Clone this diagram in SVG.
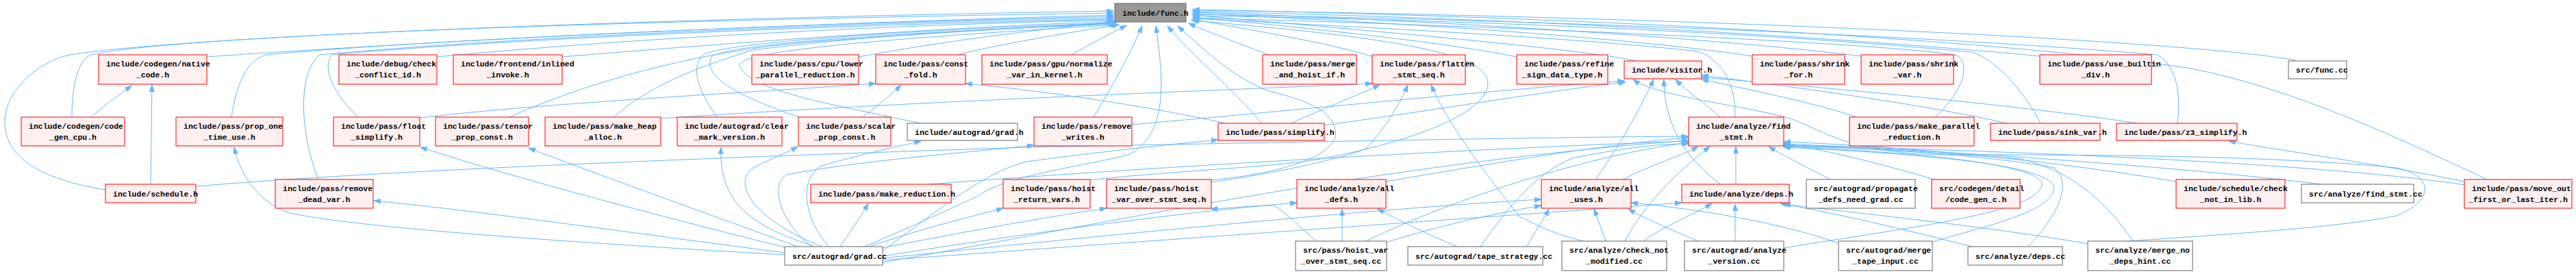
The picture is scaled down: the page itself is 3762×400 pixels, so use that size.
<svg xmlns="http://www.w3.org/2000/svg" width="3762" height="400" viewBox="0 0 3762 400">
<style>
.e path{fill:none;stroke:#63b8ff;stroke-width:1;marker-end:url(#a)}
.n rect{stroke-width:1}
.r rect{fill:#fff0f0;stroke:#ff0000}
.g rect{fill:#ffffff;stroke:#666666}
.f rect{fill:#999999;stroke:#666666}
text{font-family:"Liberation Mono","DejaVu Sans Mono",monospace;font-size:11.5px;font-weight:bold;fill:#000}
.c{text-anchor:middle}
</style>
<defs>
<marker id="a" markerWidth="11" markerHeight="8" refX="10" refY="3.5" orient="auto" markerUnits="userSpaceOnUse"><path d="M0,0L10,3.5L0,7z" fill="#63b8ff" stroke="#63b8ff" stroke-width="1"/></marker>
</defs>
<rect width="3762" height="400" fill="#ffffff"/>
<g id="connectors" class="e">
<path d="M154,277C60,262 8,230 7,180C6,130 60,88 103,80C250,55 900,28 1626,16"/>
<path d="M105,171C105,130 112,88 133,80C260,52 900,30 1626,19"/>
<path d="M302,83C600,62 1100,36 1626,22"/>
<path d="M338,171C345,125 360,86 390,80C600,60 1100,36 1626,24"/>
<path d="M465,262C440,200 432,110 467,80C700,58 1150,36 1626,26"/>
<path d="M523,171C490,140 468,100 485,80C700,60 1150,38 1626,28"/>
<path d="M638,83C900,58 1250,38 1626,29"/>
<path d="M821,83C1100,60 1350,42 1626,31"/>
<path d="M744,171C880,110 1050,70 1200,60C1400,45 1550,38 1628,33"/>
<path d="M897,171C950,120 1050,88 1100,73C1300,48 1500,40 1630,34"/>
<path d="M1047,171C1025,140 1005,100 1027,80C1060,62 1300,46 1628,33"/>
<path d="M1167,171C1060,135 1025,105 1040,82C1070,64 1300,48 1630,35"/>
<path d="M1345,180C1200,150 1090,130 1080,95C1080,70 1400,50 1632,36"/>
<path d="M1254,83C1400,56 1550,40 1628,31"/>
<path d="M1398,80C1480,60 1580,45 1634,36"/>
<path d="M1565,80C1590,65 1620,50 1645,37"/>
<path d="M1597,171C1625,125 1650,80 1668,38"/>
<path d="M1263,360C1350,322 1400,300 1430,285C1470,255 1600,240 1650,225C1705,195 1700,120 1688,38"/>
<path d="M1843,180C1800,130 1740,80 1705,38"/>
<path d="M1769,263C1850,255 1940,235 1950,200C1955,160 1900,145 1850,132C1800,112 1755,70 1720,38"/>
<path d="M1853,80C1800,60 1760,45 1736,34"/>
<path d="M1592,263C1700,250 1850,245 1923,233C2050,210 2185,165 2172,115C2160,80 2050,55 1740,30"/>
<path d="M2005,83C1950,65 1850,48 1742,28"/>
<path d="M2215,83C2100,60 1900,40 1742,25"/>
<path d="M2390,89C2300,70 2000,45 1742,22"/>
<path d="M2534,171C2535,130 2520,90 2480,75C2300,55 2000,40 1742,27"/>
<path d="M2559,82C2400,58 2100,35 1742,20"/>
<path d="M2718,82C2500,55 2100,30 1742,18"/>
<path d="M2826,171C2860,140 2880,100 2860,82C2800,65 2200,38 1742,26"/>
<path d="M2980,180C2960,140 2920,90 2880,76C2600,50 2200,30 1742,23"/>
<path d="M2979,82C2700,55 2200,25 1742,17"/>
<path d="M3180,180C3185,140 3180,95 3150,80C2800,50 2200,28 1742,21"/>
<path d="M3353,88C3200,60 2500,25 1742,15"/>
<path d="M3632,262C3500,200 3350,130 3200,100C2900,55 2300,25 1742,14"/>
<path d="M134,171C150,155 172,140 192,125"/>
<path d="M220,269L222,124"/>
<path d="M286,272C600,245 1200,225 1500,215C2000,205 2300,200 2465,199"/>
<path d="M1146,372C800,352 500,330 420,310C380,295 352,260 342,215"/>
<path d="M1146,369C900,337 700,308 546,293"/>
<path d="M1150,362C950,312 760,262 614,215"/>
<path d="M1165,360C1000,300 860,250 772,216"/>
<path d="M1190,360C1100,330 1050,300 1053,215"/>
<path d="M1200,360C1100,320 1068,268 1100,245C1125,232 1145,225 1165,214"/>
<path d="M1210,360C1175,320 1165,262 1200,242C1255,226 1305,215 1345,206"/>
<path d="M1185,360C1135,320 1125,265 1150,255C1250,235 1400,224 1510,212"/>
<path d="M1227,360C1240,340 1255,320 1268,297"/>
<path d="M1270,360C1350,332 1420,316 1465,304"/>
<path d="M1283,363C1400,340 1520,318 1616,304"/>
<path d="M1289,366C1380,300 1440,250 1500,236C1600,222 1700,212 1779,204"/>
<path d="M1289,374C1500,340 1750,307 1894,296"/>
<path d="M1289,377C1600,345 2000,305 2251,291"/>
<path d="M1289,380C1700,350 2200,315 2456,296"/>
<path d="M1289,383C1600,330 2000,240 2466,205"/>
<path d="M613,172C800,150 1100,135 1279,122"/>
<path d="M1260,171C1280,155 1300,140 1316,124"/>
<path d="M1790,180C1700,160 1550,135 1410,122"/>
<path d="M1885,180C1930,160 1980,140 2015,124"/>
<path d="M965,173C1300,150 1700,135 2004,122"/>
<path d="M1653,182C1900,160 2200,130 2372,118"/>
<path d="M1934,183C2100,160 2280,130 2374,120"/>
<path d="M1769,266C1850,255 1960,232 1995,217C2025,185 2045,150 2056,124"/>
<path d="M1357,269C1700,242 2200,215 2466,206"/>
<path d="M2024,265C2200,235 2350,210 2466,201"/>
<path d="M1995,352C2100,300 2300,230 2466,208"/>
<path d="M2162,360C2190,320 2240,250 2300,230C2380,215 2420,210 2466,210"/>
<path d="M2370,262C2400,245 2450,230 2480,214"/>
<path d="M2373,352C2400,300 2450,250 2497,214"/>
<path d="M2535,269L2535,214"/>
<path d="M2513,269C2460,230 2430,180 2430,116"/>
<path d="M2512,171C2490,150 2465,135 2447,116"/>
<path d="M2330,262C2360,220 2390,170 2415,116"/>
<path d="M2673,262C2640,245 2610,230 2583,214"/>
<path d="M2825,262C2750,240 2680,222 2605,209"/>
<path d="M3178,265C3000,235 2800,215 2605,207"/>
<path d="M3390,269C3200,245 2850,220 2605,210"/>
<path d="M3599,265C3450,235 3330,220 3255,206"/>
<path d="M3600,270C3400,240 3000,222 2605,212"/>
<path d="M3115,352C3080,300 3030,250 2950,232C2800,220 2700,215 2605,212"/>
<path d="M2962,360C3000,320 3030,270 3000,245C2900,225 2700,215 2605,213"/>
<path d="M2605,362C2800,330 2975,310 2982,270C2985,240 2800,222 2605,214"/>
<path d="M2815,355C2900,330 2995,310 3000,275C3000,240 2800,224 2605,215"/>
<path d="M3050,356C3200,345 3400,335 3500,315C3560,290 3550,255 3500,245C3300,225 3000,226 2830,226C2700,222 2660,190 2620,175C2560,155 2420,142 2385,116"/>
<path d="M2712,171C2650,150 2550,130 2485,116"/>
<path d="M3120,180C3000,160 2700,130 2485,113"/>
<path d="M2930,180C2850,160 2650,130 2485,110"/>
<path d="M2880,360C2800,340 2700,315 2600,297"/>
<path d="M3050,356C2900,330 2700,310 2605,298"/>
<path d="M2685,355C2600,325 2480,305 2382,296"/>
<path d="M2534,352L2534,298"/>
<path d="M2480,352C2440,335 2400,318 2378,305"/>
<path d="M2345,352L2328,305"/>
<path d="M2400,352C2430,330 2470,315 2500,297"/>
<path d="M2313,352C2260,340 2230,320 2220,317C2150,230 2110,170 2090,124"/>
<path d="M1960,352L1960,305"/>
<path d="M1923,352C1900,335 1880,310 1860,300C1820,300 1790,305 1768,305"/>
<path d="M2020,355C2100,330 2180,312 2251,300"/>
<path d="M2128,360C2080,340 2040,320 2012,305"/>
<path d="M2230,360C2240,340 2255,320 2262,305"/>
</g>
<g id="func_h" class="n f"><rect x="1628" y="5" width="104" height="27"/><text x="1639" y="23">include/func.h</text></g>
<g id="native_code" class="n r"><rect x="144" y="80" width="158" height="43"/><text x="155" y="97">include/codegen/native</text><text class="c" x="223" y="113">_code.h</text></g>
<g id="check_conflict_id" class="n r"><rect x="495" y="80" width="143" height="43"/><text x="506" y="97">include/debug/check</text><text class="c" x="566.5" y="113">_conflict_id.h</text></g>
<g id="inlined_invoke" class="n r"><rect x="662" y="80" width="159" height="43"/><text x="673" y="97">include/frontend/inlined</text><text class="c" x="741.5" y="113">_invoke.h</text></g>
<g id="lower_parallel_reduction" class="n r"><rect x="1098" y="80" width="156" height="43"/><text x="1109" y="97">include/pass/cpu/lower</text><text class="c" x="1176" y="113">_parallel_reduction.h</text></g>
<g id="const_fold" class="n r"><rect x="1279" y="80" width="131" height="43"/><text x="1290" y="97">include/pass/const</text><text class="c" x="1344.5" y="113">_fold.h</text></g>
<g id="normalize_var_in_kernel" class="n r"><rect x="1434" y="80" width="183" height="43"/><text x="1445" y="97">include/pass/gpu/normalize</text><text class="c" x="1525.5" y="113">_var_in_kernel.h</text></g>
<g id="merge_and_hoist_if" class="n r"><rect x="1844" y="80" width="137" height="43"/><text x="1855" y="97">include/pass/merge</text><text class="c" x="1912.5" y="113">_and_hoist_if.h</text></g>
<g id="flatten_stmt_seq" class="n r"><rect x="2004" y="80" width="136" height="43"/><text x="2015" y="97">include/pass/flatten</text><text class="c" x="2072" y="113">_stmt_seq.h</text></g>
<g id="refine_sign_data_type" class="n r"><rect x="2215" y="80" width="133" height="43"/><text x="2226" y="97">include/pass/refine</text><text class="c" x="2281.5" y="113">_sign_data_type.h</text></g>
<g id="visitor" class="n r"><rect x="2372" y="89" width="113" height="26"/><text x="2383" y="106">include/visitor.h</text></g>
<g id="shrink_for" class="n r"><rect x="2559" y="80" width="135" height="43"/><text x="2570" y="97">include/pass/shrink</text><text class="c" x="2626.5" y="113">_for.h</text></g>
<g id="shrink_var" class="n r"><rect x="2718" y="80" width="135" height="43"/><text x="2729" y="97">include/pass/shrink</text><text class="c" x="2785.5" y="113">_var.h</text></g>
<g id="use_builtin_div" class="n r"><rect x="2979" y="80" width="163" height="43"/><text x="2990" y="97">include/pass/use_builtin</text><text class="c" x="3060.5" y="113">_div.h</text></g>
<g id="func_cc" class="n g"><rect x="3342" y="89" width="85" height="26"/><text x="3353" y="106">src/func.cc</text></g>
<g id="code_gen_cpu" class="n r"><rect x="31" y="171" width="151" height="42"/><text x="42" y="188">include/codegen/code</text><text class="c" x="106.5" y="204">_gen_cpu.h</text></g>
<g id="prop_one_time_use" class="n r"><rect x="257" y="171" width="156" height="42"/><text x="268" y="188">include/pass/prop_one</text><text class="c" x="335" y="204">_time_use.h</text></g>
<g id="float_simplify" class="n r"><rect x="487" y="171" width="126" height="42"/><text x="498" y="188">include/pass/float</text><text class="c" x="550" y="204">_simplify.h</text></g>
<g id="tensor_prop_const" class="n r"><rect x="636" y="171" width="136" height="42"/><text x="647" y="188">include/pass/tensor</text><text class="c" x="704" y="204">_prop_const.h</text></g>
<g id="make_heap_alloc" class="n r"><rect x="796" y="171" width="169" height="42"/><text x="807" y="188">include/pass/make_heap</text><text class="c" x="880.5" y="204">_alloc.h</text></g>
<g id="clear_mark_version" class="n r"><rect x="989" y="171" width="153" height="42"/><text x="1000" y="188">include/autograd/clear</text><text class="c" x="1065.5" y="204">_mark_version.h</text></g>
<g id="scalar_prop_const" class="n r"><rect x="1166" y="171" width="135" height="42"/><text x="1177" y="188">include/pass/scalar</text><text class="c" x="1233.5" y="204">_prop_const.h</text></g>
<g id="autograd_grad_h" class="n g"><rect x="1325" y="180" width="161" height="25"/><text x="1336" y="197">include/autograd/grad.h</text></g>
<g id="remove_writes" class="n r"><rect x="1510" y="171" width="143" height="42"/><text x="1521" y="188">include/pass/remove</text><text class="c" x="1581.5" y="204">_writes.h</text></g>
<g id="simplify" class="n r"><rect x="1779" y="180" width="155" height="25"/><text x="1790" y="197">include/pass/simplify.h</text></g>
<g id="find_stmt_h" class="n r"><rect x="2466" y="171" width="139" height="42"/><text x="2477" y="188">include/analyze/find</text><text class="c" x="2535.5" y="204">_stmt.h</text></g>
<g id="make_parallel_reduction" class="n r"><rect x="2701" y="171" width="182" height="42"/><text x="2712" y="188">include/pass/make_parallel</text><text class="c" x="2792" y="204">_reduction.h</text></g>
<g id="sink_var" class="n r"><rect x="2907" y="180" width="160" height="25"/><text x="2918" y="197">include/pass/sink_var.h</text></g>
<g id="z3_simplify" class="n r"><rect x="3091" y="180" width="176" height="25"/><text x="3102" y="197">include/pass/z3_simplify.h</text></g>
<g id="schedule_h" class="n r"><rect x="154" y="269" width="132" height="27"/><text x="165" y="287">include/schedule.h</text></g>
<g id="remove_dead_var" class="n r"><rect x="402" y="262" width="143" height="42"/><text x="413" y="279">include/pass/remove</text><text class="c" x="473.5" y="295">_dead_var.h</text></g>
<g id="make_reduction" class="n r"><rect x="1184" y="269" width="205" height="27"/><text x="1195" y="287">include/pass/make_reduction.h</text></g>
<g id="hoist_return_vars" class="n r"><rect x="1465" y="262" width="127" height="42"/><text x="1476" y="279">include/pass/hoist</text><text class="c" x="1528.5" y="295">_return_vars.h</text></g>
<g id="hoist_var_over_stmt_seq_h" class="n r"><rect x="1616" y="262" width="153" height="42"/><text x="1627" y="279">include/pass/hoist</text><text class="c" x="1692.5" y="295">_var_over_stmt_seq.h</text></g>
<g id="all_defs" class="n r"><rect x="1894" y="262" width="130" height="42"/><text x="1905" y="279">include/analyze/all</text><text class="c" x="1959" y="295">_defs.h</text></g>
<g id="all_uses" class="n r"><rect x="2251" y="262" width="131" height="42"/><text x="2262" y="279">include/analyze/all</text><text class="c" x="2316.5" y="295">_uses.h</text></g>
<g id="deps_h" class="n r"><rect x="2456" y="269" width="157" height="27"/><text x="2467" y="287">include/analyze/deps.h</text></g>
<g id="propagate_defs_need_grad" class="n g"><rect x="2638" y="262" width="159" height="42"/><text x="2649" y="279">src/autograd/propagate</text><text class="c" x="2717.5" y="295">_defs_need_grad.cc</text></g>
<g id="code_gen_c" class="n r"><rect x="2821" y="262" width="129" height="42"/><text x="2832" y="279">src/codegen/detail</text><text class="c" x="2885.5" y="295">/code_gen_c.h</text></g>
<g id="check_not_in_lib" class="n r"><rect x="3178" y="262" width="159" height="42"/><text x="3189" y="279">include/schedule/check</text><text class="c" x="3257.5" y="295">_not_in_lib.h</text></g>
<g id="find_stmt_cc" class="n g"><rect x="3361" y="269" width="164" height="27"/><text x="3372" y="287">src/analyze/find_stmt.cc</text></g>
<g id="move_out_first_or_last_iter" class="n r"><rect x="3599" y="262" width="157" height="42"/><text x="3610" y="279">include/pass/move_out</text><text class="c" x="3677.5" y="295">_first_or_last_iter.h</text></g>
<g id="grad_cc" class="n g"><rect x="1146" y="360" width="143" height="27"/><text x="1157" y="378">src/autograd/grad.cc</text></g>
<g id="hoist_var_over_stmt_seq_cc" class="n g"><rect x="1892" y="352" width="133" height="43"/><text x="1903" y="369">src/pass/hoist_var</text><text class="c" x="1958.5" y="385">_over_stmt_seq.cc</text></g>
<g id="tape_strategy" class="n g"><rect x="2056" y="360" width="197" height="27"/><text x="2067" y="378">src/autograd/tape_strategy.cc</text></g>
<g id="check_not_modified" class="n g"><rect x="2281" y="352" width="153" height="43"/><text x="2292" y="369">src/analyze/check_not</text><text class="c" x="2357.5" y="385">_modified.cc</text></g>
<g id="analyze_version" class="n g"><rect x="2460" y="352" width="145" height="43"/><text x="2471" y="369">src/autograd/analyze</text><text class="c" x="2532.5" y="385">_version.cc</text></g>
<g id="merge_tape_input" class="n g"><rect x="2685" y="352" width="137" height="43"/><text x="2696" y="369">src/autograd/merge</text><text class="c" x="2753.5" y="385">_tape_input.cc</text></g>
<g id="deps_cc" class="n g"><rect x="2874" y="360" width="138" height="27"/><text x="2885" y="378">src/analyze/deps.cc</text></g>
<g id="merge_no_deps_hint" class="n g"><rect x="3049" y="352" width="153" height="43"/><text x="3060" y="369">src/analyze/merge_no</text><text class="c" x="3125.5" y="385">_deps_hint.cc</text></g>
</svg>
